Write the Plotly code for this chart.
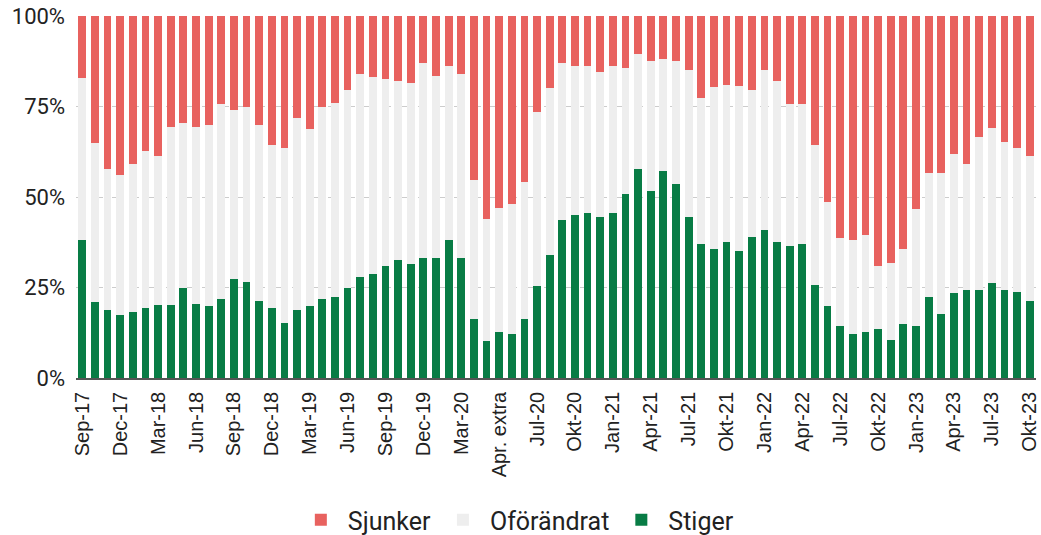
import plotly.graph_objects as go

categories = [
    "Sep-17", "Okt-17", "Nov-17", "Dec-17",
    "Jan-18", "Feb-18", "Mar-18", "Apr-18", "Maj-18", "Jun-18", "Jul-18", "Aug-18", "Sep-18", "Okt-18", "Nov-18", "Dec-18",
    "Jan-19", "Feb-19", "Mar-19", "Apr-19", "Maj-19", "Jun-19", "Jul-19", "Aug-19", "Sep-19", "Okt-19", "Nov-19", "Dec-19",
    "Jan-20", "Feb-20", "Mar-20", "Mar. extra", "Apr-20", "Apr. extra", "Maj-20", "Jun-20",
    "Jul-20", "Aug-20", "Sep-20", "Okt-20", "Nov-20", "Dec-20",
    "Jan-21", "Feb-21", "Mar-21", "Apr-21", "Maj-21", "Jun-21", "Jul-21", "Aug-21", "Sep-21", "Okt-21", "Nov-21", "Dec-21",
    "Jan-22", "Feb-22", "Mar-22", "Apr-22", "Maj-22", "Jun-22", "Jul-22", "Aug-22", "Sep-22", "Okt-22", "Nov-22", "Dec-22",
    "Jan-23", "Feb-23", "Mar-23", "Apr-23", "Maj-23", "Jun-23", "Jul-23", "Aug-23", "Sep-23", "Okt-23",
]

tick_labels = [
    "Sep-17", "Dec-17", "Mar-18", "Jun-18", "Sep-18", "Dec-18", "Mar-19", "Jun-19", "Sep-19",
    "Dec-19", "Mar-20", "Apr. extra", "Jul-20", "Okt-20", "Jan-21", "Apr-21", "Jul-21", "Okt-21",
    "Jan-22", "Apr-22", "Jul-22", "Okt-22", "Jan-23", "Apr-23", "Jul-23", "Okt-23",
]

stiger = [
    38.0, 20.9, 18.8, 17.4, 18.3, 19.4, 20.3, 20.3, 25.0, 20.4,
    19.8, 21.9, 27.4, 26.5, 21.3, 19.4, 15.2, 18.8, 19.8, 21.8,
    22.5, 25.0, 27.9, 28.8, 30.9, 32.5, 31.6, 33.1, 33.1, 38.0,
    33.1, 16.4, 10.3, 12.7, 12.2, 16.4, 25.4, 34.0, 43.6, 45.1,
    45.6, 44.6, 45.6, 50.7, 57.6, 51.6, 57.3, 53.7, 44.6, 36.9,
    35.5, 37.7, 35.0, 39.0, 41.0, 37.6, 36.5, 37.0, 25.8, 19.8,
    14.3, 12.2, 12.7, 13.4, 10.6, 14.8, 14.3, 22.4, 17.8, 23.4,
    24.2, 24.2, 26.3, 24.2, 23.8, 21.3,
]

oforandrat = [
    45.0, 44.0, 38.8, 38.8, 40.9, 43.3, 41.0, 49.1, 45.4, 49.0,
    50.0, 53.9, 46.6, 48.5, 48.5, 44.9, 48.2, 53.1, 49.1, 53.2,
    53.4, 54.5, 56.2, 54.3, 51.6, 49.5, 50.0, 54.0, 50.4, 48.1,
    51.0, 38.2, 33.7, 34.4, 36.0, 37.8, 48.0, 46.0, 43.5, 41.0,
    40.5, 40.0, 40.5, 34.8, 32.0, 36.0, 30.7, 33.9, 40.4, 40.5,
    44.9, 43.3, 45.8, 40.5, 44.0, 44.4, 39.3, 38.8, 38.5, 28.7,
    24.3, 25.8, 26.7, 17.5, 21.3, 20.7, 32.3, 34.3, 38.9, 38.4,
    35.0, 42.3, 42.7, 41.1, 39.6, 39.9,
]

sjunker = [
    17.0, 35.1, 42.4, 43.8, 40.8, 37.3, 38.7, 30.6, 29.6, 30.6,
    30.2, 24.2, 26.0, 25.0, 30.2, 35.7, 36.6, 28.1, 31.1, 25.0,
    24.1, 20.5, 15.9, 16.9, 17.5, 18.0, 18.4, 12.9, 16.5, 13.9,
    15.9, 45.4, 56.0, 52.9, 51.8, 45.8, 26.6, 20.0, 12.9, 13.9,
    13.9, 15.4, 13.9, 14.5, 10.4, 12.4, 12.0, 12.4, 15.0, 22.6,
    19.6, 19.0, 19.2, 20.5, 15.0, 18.0, 24.2, 24.2, 35.7, 51.5,
    61.4, 62.0, 60.6, 69.1, 68.1, 64.5, 53.4, 43.3, 43.3, 38.2,
    40.8, 33.5, 31.0, 34.7, 36.6, 38.8,
]

C_GREEN = "#087c45"
C_GRAY = "#eeeeee"
C_RED = "#e8625f"
TEXT = "#222222"

fig = go.Figure()
fig.add_trace(go.Bar(x=categories, y=stiger, name="Stiger", marker=dict(color=C_GREEN, line=dict(width=0))))
fig.add_trace(go.Bar(x=categories, y=oforandrat, name="Oförändrat", marker=dict(color=C_GRAY, line=dict(width=0))))
fig.add_trace(go.Bar(x=categories, y=sjunker, name="Sjunker", marker=dict(color=C_RED, line=dict(width=0))))

fig.update_layout(
    barmode="stack",
    barnorm="percent",
    bargap=0.38,
    width=1041,
    height=535,
    margin=dict(l=76, r=5, t=16, b=157),
    paper_bgcolor="white",
    plot_bgcolor="white",
    font=dict(family="Roboto, sans-serif", size=22, color=TEXT),
    showlegend=True,
    legend=dict(
        orientation="h",
        traceorder="reversed",
        xref="container",
        yref="container",
        x=0.496,
        xanchor="center",
        y=0.028,
        yanchor="middle",
        font=dict(family="Roboto, sans-serif", size=25, color=TEXT),
        itemclick=False,
        itemwidth=44,
    ),
    xaxis=dict(
        type="category",
        categoryorder="array",
        categoryarray=categories,
        tickmode="array",
        tickvals=tick_labels,
        ticktext=tick_labels,
        tickangle=-90,
        tickfont=dict(family="Liberation Sans, Arial, sans-serif", size=20, color=TEXT),
        showgrid=False,
        showline=True,
        linecolor="#555555",
        linewidth=1.5,
        ticks="",
        ticklabelstandoff=4,
        automargin=False,
        range=[-0.5, len(categories) - 0.5],
    ),
    yaxis=dict(
        range=[0, 100],
        tickvals=[0, 25, 50, 75, 100],
        ticktext=["0%", "25%", "50%", "75%", "100%"],
        showgrid=True,
        gridcolor="#cccccc",
        griddash="dash",
        gridwidth=1,
        zeroline=False,
        ticks="",
        ticklabelstandoff=10,
        automargin=False,
        tickfont=dict(family="Roboto, sans-serif", size=22, color=TEXT),
    ),
)

fig.write_html(
    "out.html",
    config={"displayModeBar": False},
    post_script="document.body.style.margin='0';document.body.style.overflow='hidden';",
)
